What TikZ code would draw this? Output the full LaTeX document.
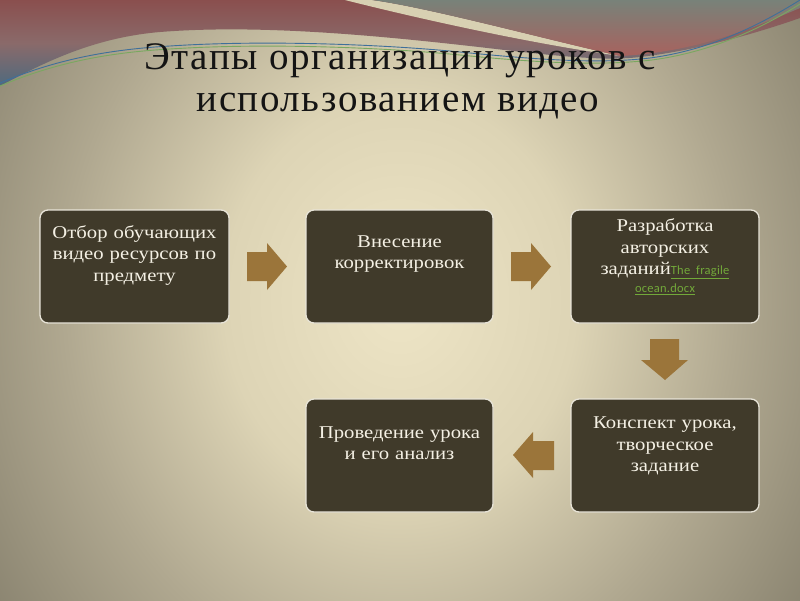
\documentclass[tikz,border=0pt]{standalone}
\usepackage{fontspec}
\setmainfont{Liberation Serif}
\newfontfamily\titlefont[LetterSpace=4]{Liberation Serif}
\newfontfamily\boxfont[FakeStretch=1.15]{Liberation Serif}
\newfontfamily\linkfont[LetterSpace=2]{Carlito}
\definecolor{boxfill}{HTML}{403A2A}
\definecolor{boxline}{HTML}{E8E4D8}
\definecolor{boxtext}{HTML}{F4F0E4}
\definecolor{arrowc}{HTML}{9B753A}
\definecolor{linkc}{HTML}{72A83A}
\definecolor{titlec}{HTML}{141414}
\definecolor{bgA}{HTML}{EEE5C6}
\definecolor{bgB}{HTML}{DDD4B5}
\definecolor{bgC}{HTML}{B0A890}
\definecolor{bgD}{HTML}{847E6B}
\definecolor{bgE}{HTML}{625D4C}
\definecolor{wavetop}{HTML}{8A4F4E}
\definecolor{wavemid}{HTML}{8A6A6A}
\definecolor{wavebot}{HTML}{4F6A7E}
\definecolor{graytop}{HTML}{788279}
\definecolor{redbot}{HTML}{A8625E}
\definecolor{stripec}{HTML}{D8D0B2}
\definecolor{lineblue}{HTML}{3F6F9A}
\definecolor{linegreen}{HTML}{7AA860}
\pgfdeclareradialshading{bgshade}{\pgfpoint{0bp}{0bp}}{color(0bp)=(bgA); color(11bp)=(bgB); color(21bp)=(bgC); color(32bp)=(bgD); color(40bp)=(bgE); color(72bp)=(bgE)}
\tikzset{
  stagebox/.style={draw=boxline, line width=1.3pt, fill=boxfill, rounded corners=8pt, inner sep=0pt},
  stagetext/.style={text=boxtext, text width=178pt, align=center, inner sep=0pt,
    font=\boxfont\fontsize{18}{21.5}\selectfont},
  blockarrow/.style={fill=arrowc}
}
\begin{document}
\begin{tikzpicture}[x=1pt,y=-1pt]
\useasboundingbox (0,0) rectangle (800,600);
\begin{scope}
\clip (0,0) rectangle (800,600);
% background
\shade[shading=bgshade] (0,-160) rectangle (800,760);
% top decoration
\shade[top color=wavetop, bottom color=wavebot, middle color=wavemid]
  (0,0) -- (0,86) .. controls (40,65) and (90,38) .. (160,32)
  .. controls (260,24) and (380,36) .. (470,46)
  .. controls (540,54) and (600,62) .. (640,57)
  .. controls (700,50) and (760,32) .. (800,18) -- (800,0) -- cycle;
\fill[stripec] (345,0) .. controls (400,14) and (520,42) .. (620,56)
  .. controls (540,38) and (430,8) .. (372,0) -- cycle;
\shade[top color=graytop, bottom color=redbot]
  (372,0) .. controls (430,8) and (540,38) .. (620,56)
  .. controls (700,52) and (760,25) .. (800,8) -- (800,0) -- cycle;
\draw[lineblue, line width=0.9pt] (0,83) .. controls (50,62) and (100,50) .. (170,46)
  .. controls (260,40) and (380,44) .. (460,52)
  .. controls (540,60) and (600,64) .. (650,58)
  .. controls (710,50) and (760,25) .. (800,0);
\draw[linegreen, line width=0.9pt] (0,86) .. controls (50,65) and (100,53) .. (170,49)
  .. controls (260,43) and (380,47) .. (460,55)
  .. controls (540,63) and (600,66) .. (652,60)
  .. controls (712,52) and (762,28) .. (800,4);
\end{scope}
% title
\node[anchor=base, text=titlec, inner sep=0pt, font=\titlefont\fontsize{39}{42}\selectfont] (title1) at (400,69) {Этапы организации уроков с};
\node[anchor=base, text=titlec, inner sep=0pt, font=\titlefont\fontsize{39}{42}\selectfont] (title2) at (398,111) {использованием видео};
% boxes
\node[stagebox, minimum width=189pt, minimum height=113pt] (b1) at (134.5,266.5) {};
\node[stagebox, minimum width=187pt, minimum height=113pt] (b2) at (399.5,266.5) {};
\node[stagebox, minimum width=188pt, minimum height=113pt] (b3) at (665,266.5) {};
\node[stagebox, minimum width=188pt, minimum height=113pt] (b4) at (665,455.5) {};
\node[stagebox, minimum width=187pt, minimum height=113pt] (b5) at (399.5,455.5) {};
% texts
\node[stagetext] (t1) at ([yshift=11.5pt]b1.center) {Отбор обучающих\\видео ресурсов по\\предмету};
\node[stagetext] (t2) at ([yshift=12.5pt]b2.center) {Внесение\\корректировок};
\node[stagetext] (t3) at ([yshift=9.5pt]b3.center) {Разработка\\авторских\\заданий{\linkfont\fontsize{12.5}{14}\selectfont\color{linkc}\underline{The fragile}}\\[-3.5pt]{\linkfont\fontsize{12.5}{14}\selectfont\color{linkc}\underline{ocean.docx}}};
\node[stagetext] (t4) at ([yshift=9.5pt]b4.center) {Конспект урока,\\творческое\\задание};
\node[stagetext] (t5) at ([yshift=12.5pt]b5.center) {Проведение урока\\и его анализ};
% block arrows
\fill[blockarrow] (247,252) -- (267,252) -- (267,243) -- (287,266.5) -- (267,290) -- (267,281) -- (247,281) -- cycle;
\fill[blockarrow] (511,252) -- (531,252) -- (531,243) -- (551,266.5) -- (531,290) -- (531,281) -- (511,281) -- cycle;
\fill[blockarrow] (650,339) -- (679,339) -- (679,360) -- (688,360) -- (665,380) -- (641,360) -- (650,360) -- cycle;
\fill[blockarrow] (554,441) -- (533,441) -- (533,432) -- (513,455) -- (533,478) -- (533,470) -- (554,470) -- cycle;
\end{tikzpicture}
\end{document}
